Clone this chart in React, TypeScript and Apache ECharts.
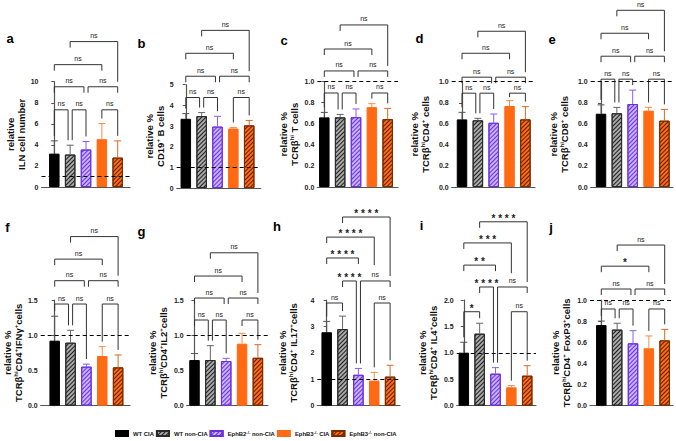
import React, { useEffect, useRef } from 'react';
import * as echarts from 'echarts';

const FONT = '"Liberation Sans", Arial, Helvetica, sans-serif';

const GROUPS = ['WT CIA', 'WT non-CIA', 'EphB2-/- non-CIA', 'EphB3-/- CIA', 'EphB3-/- non-CIA'];

// means and upper error (mean + SD) per panel
const A_MEAN = [3.17, 3.08, 3.56, 4.54, 2.79];
const A_ERR = [4.38, 3.97, 4.32, 6.03, 4.38];
const B_MEAN = [3.35, 3.48, 2.97, 2.88, 3.03];
const B_ERR = [3.6, 3.65, 3.47, 2.93, 3.27];
const C_MEAN = [0.66, 0.66, 0.662, 0.757, 0.643];
const C_ERR = [0.707, 0.688, 0.74, 0.79, 0.745];
const D_MEAN = [0.642, 0.633, 0.61, 0.769, 0.642];
const D_ERR = [0.709, 0.652, 0.693, 0.82, 0.763];
const E_MEAN = [0.696, 0.7, 0.788, 0.725, 0.63];
const E_ERR = [0.78, 0.756, 0.92, 0.756, 0.737];
const F_MEAN = [0.923, 0.894, 0.554, 0.705, 0.544];
const F_ERR = [1.27, 1.07, 0.59, 0.838, 0.72];
const G_MEAN = [0.648, 0.648, 0.634, 0.88, 0.68];
const G_ERR = [0.74, 0.852, 0.672, 1.027, 0.866];
const H_MEAN = [2.78, 2.9, 1.17, 0.95, 1.1];
const H_ERR = [3.19, 3.39, 1.41, 1.26, 1.53];
const I_MEAN = [1.003, 1.363, 0.606, 0.347, 0.568];
const I_ERR = [1.2, 1.56, 0.72, 0.38, 0.757];
const J_MEAN = [0.763, 0.72, 0.59, 0.543, 0.618];
const J_ERR = [0.8, 0.78, 0.71, 0.66, 0.722];

// significance brackets: [from, to, level value, left leg, right leg, label]
// leg: 's' short, 'e' down to error bar, 'b' down to bracket below, number = value
const A_BRK = [[0, 1, 7.33, 'e', 'e', 'ns'], [1, 2, 7.33, 'e', 'e', 'ns'], [3, 4, 7.33, 'e', 'e', 'ns'], [0, 2, 9.52, 's', 's', 'ns'], [2, 4, 9.52, 's', 's', 'ns'], [0, 3, 11.62, 's', 's', 'ns'], [1, 4, 13.81, 's', 'b', 'ns']];
const B_BRK = [[0, 1, 4.38, 'e', 'e', 'ns'], [1, 2, 4.38, 'e', 'e', 'ns'], [3, 4, 4.38, 'e', 'e', 'ns'], [0, 2, 5.41, 's', 's', 'ns'], [2, 4, 5.41, 's', 's', 'ns'], [0, 3, 6.52, 's', 's', 'ns'], [1, 4, 7.63, 's', 'b', 'ns']];
const C_BRK = [[0, 1, 0.891, 'e', 'e', 'ns'], [1, 2, 0.891, 'e', 'e', 'ns'], [3, 4, 0.891, 'e', 'e', 'ns'], [0, 2, 1.1, 's', 's', 'ns'], [2, 4, 1.1, 's', 's', 'ns'], [0, 3, 1.308, 's', 's', 'ns'], [1, 4, 1.536, 's', 'b', 'ns']];
const D_BRK = [[0, 1, 0.891, 'e', 'e', 'ns'], [1, 2, 0.891, 'e', 'e', 'ns'], [3, 4, 0.891, 'e', 'e', 'ns'], [0, 2, 1.043, 's', 's', 'ns'], [2, 4, 1.043, 's', 's', 'ns'], [0, 3, 1.27, 's', 's', 'ns'], [1, 4, 1.479, 's', 'b', 'ns']];
const E_BRK = [[0, 1, 1.024, 'e', 'e', 'ns'], [1, 2, 1.024, 'e', 'e', 'ns'], [3, 4, 1.024, 'e', 'e', 'ns'], [0, 2, 1.242, 's', 's', 'ns'], [2, 4, 1.242, 's', 's', 'ns'], [0, 3, 1.46, 's', 's', 'ns'], [1, 4, 1.678, 's', 'b', 'ns']];
const F_BRK = [[0, 1, 1.443, 'e', 'e', 'ns'], [1, 2, 1.443, 'e', 'e', 'ns'], [3, 4, 1.443, 'e', 'e', 'ns'], [0, 2, 1.774, 's', 's', 'ns'], [2, 4, 1.774, 's', 's', 'ns'], [0, 3, 2.08, 's', 's', 'ns'], [1, 4, 2.4, 's', 'b', 'ns']];
const G_BRK = [[0, 1, 1.216, 's', 'e', 'ns'], [1, 2, 1.216, 'e', 'e', 'ns'], [3, 4, 1.216, 's', 'e', 'ns'], [0, 2, 1.528, 's', 's', 'ns'], [2, 4, 1.528, 's', 's', 'ns'], [0, 3, 1.84, 's', 's', 'ns'], [1, 4, 2.17, 's', 'b', 'ns']];
const H_BRK = [[0, 1, 3.886, 'e', 'e', 'ns'], [3, 4, 3.886, 'e', 'e', 'ns'], [1, 2, 4.72, 's', 'e', '****'], [2, 4, 4.72, 'e', 's', 'ns'], [0, 2, 5.59, 's', 's', '****'], [0, 3, 6.38, 's', 5.32, '****'], [1, 4, 7.14, 's', 'b', '****']];
const I_BRK = [[0, 1, 1.778, 'e', 'e', '*'], [3, 4, 1.778, 'e', 'e', 'ns'], [1, 2, 2.246, 's', 'e', '****'], [2, 4, 2.246, 'e', 's', 'ns'], [0, 2, 2.66, 's', 's', '**'], [0, 3, 3.08, 's', 2.505, '***'], [1, 4, 3.48, 's', 'b', '****']];
const J_BRK = [[0, 1, 0.915, 'e', 'e', 'ns'], [1, 2, 0.915, 'e', 'e', 'ns'], [3, 4, 0.915, 'e', 'e', 'ns'], [0, 2, 1.104, 's', 's', 'ns'], [2, 4, 1.104, 's', 's', 'ns'], [0, 3, 1.32, 's', 's', '*'], [1, 4, 1.52, 's', 'b', 'ns']];

// y axis: [max, interval, decimals]
const A_Y = [10, 2, 0];
const B_Y = [5, 1, 0];
const C_Y = [1, 0.2, 1];
const D_Y = [1, 0.2, 1];
const E_Y = [1, 0.2, 1];
const F_Y = [1.5, 0.5, 1];
const G_Y = [1.5, 0.5, 1];
const H_Y = [4, 1, 0];
const I_Y = [2, 0.5, 1];
const J_Y = [1, 0.2, 1];

const A_TITLE = 'relative\nILN cell number';
const B_TITLE = 'relative %\nCD19{sup|+} B cells';
const C_TITLE = 'relative %\nTCRβ{sup|hi} T cells';
const D_TITLE = 'relative %\nTCRβ{sup|hi}CD4{sup|+} cells';
const E_TITLE = 'relative %\nTCRβ{sup|hi}CD8{sup|+} cells';
const F_TITLE = 'relative %\nTCRβ{sup|hi}CD4{sup|+}IFNγ{sup|+}cells';
const G_TITLE = 'relative %\nTCRβ{sup|hi}CD4{sup|+}IL2{sup|+}cells';
const H_TITLE = 'relative %\nTCRβ{sup|hi}CD4{sup|+} IL17{sup|+}cells';
const I_TITLE = 'relative %\nTCRβ{sup|hi}CD4{sup|+} IL4{sup|+}cells';
const J_TITLE = 'relative %\nTCRβ{sup|hi}CD4{sup|+} FoxP3{sup|+}cells';

const LETTERS = ['a', 'b', 'c', 'd', 'e', 'f', 'g', 'h', 'i', 'j'];
const REF_LINE = 1;

const PANELS = [
  { mean: A_MEAN, err: A_ERR, brk: A_BRK, y: A_Y, title: A_TITLE },
  { mean: B_MEAN, err: B_ERR, brk: B_BRK, y: B_Y, title: B_TITLE },
  { mean: C_MEAN, err: C_ERR, brk: C_BRK, y: C_Y, title: C_TITLE },
  { mean: D_MEAN, err: D_ERR, brk: D_BRK, y: D_Y, title: D_TITLE },
  { mean: E_MEAN, err: E_ERR, brk: E_BRK, y: E_Y, title: E_TITLE },
  { mean: F_MEAN, err: F_ERR, brk: F_BRK, y: F_Y, title: F_TITLE },
  { mean: G_MEAN, err: G_ERR, brk: G_BRK, y: G_Y, title: G_TITLE },
  { mean: H_MEAN, err: H_ERR, brk: H_BRK, y: H_Y, title: H_TITLE },
  { mean: I_MEAN, err: I_ERR, brk: I_BRK, y: I_Y, title: I_TITLE },
  { mean: J_MEAN, err: J_ERR, brk: J_BRK, y: J_Y, title: J_TITLE },
];

// layout: axisX, firstBarCenter, axisEnd, top, bottom, nameGap, letterX, letterY
const LAYOUT = [
  [41.5, 54.3, 130, 81.7, 187, 12.5, 10, 38],
  [176.7, 185.8, 260.7, 84.7, 188, 9, 141.5, 43],
  [317.3, 324.3, 398, 81.5, 187, 17.3, 284, 40],
  [451.7, 462, 535, 81.7, 187, 20.7, 419.5, 38],
  [590.7, 601, 673, 81.7, 187, 20.7, 552, 39],
  [40.7, 54.7, 130, 300, 405.7, 10.7, 7.5, 227],
  [186.7, 194.5, 268, 300, 405.7, 17.7, 141.5, 231],
  [317.3, 326.7, 400, 300, 405.7, 18.3, 277, 226.5],
  [456.7, 463.8, 536, 300, 405.7, 17.7, 421.5, 225.5],
  [590, 601.3, 673, 300, 405.7, 18, 551, 227],
];
const SP = 15.85;
const BAR_W = 10.5;
const INK = '#222222';

const FILL = ['#000000', '#a8a8a8', '#c6b2ff', '#ff6a13', '#ff6a13'];
const BORDER = ['#000000', '#2a2a2a', '#6b2fe0', '#ff6a13', '#7a2c00'];
const STRIPE = [null, '#1e1e1e', '#6b2fe0', null, '#5a1f00'];
const ERRC = ['#555555', '#666666', '#8a5cf5', '#ff8a45', '#d86a25'];

function barStyle(k: number) {
  const s = STRIPE[k];
  return {
    color: FILL[k],
    borderColor: BORDER[k],
    borderWidth: 1,
    decal: s
      ? { symbol: 'rect', symbolSize: 1, dashArrayX: [1, 0], dashArrayY: [1, 2], rotation: -Math.PI / 4, color: s }
      : 'none',
  };
}

function buildOption() {
  const grid: any[] = [];
  const xAxis: any[] = [];
  const yAxis: any[] = [];
  const series: any[] = [];
  const graphic: any[] = [];

  PANELS.forEach((p, gi) => {
    const [ax, first, end, top, bottom, gap, lx, ly] = LAYOUT[gi];
    const xmin = -(first - ax) / SP;
    const xmax = xmin + (end - ax) / SP;
    grid.push({ left: ax, top, width: end - ax, height: bottom - top, containLabel: false });
    xAxis.push({
      type: 'value', gridIndex: gi, min: xmin, max: xmax,
      axisLine: { show: true, onZero: false, lineStyle: { color: '#555', width: 1.2 } },
      axisTick: { show: false }, axisLabel: { show: false }, splitLine: { show: false },
    });
    const [ymax, step, dec] = p.y;
    yAxis.push({
      type: 'value', gridIndex: gi, min: 0, max: ymax, interval: step,
      axisLine: { show: true, lineStyle: { color: '#555', width: 1.2 } },
      axisTick: { show: true, length: 3, lineStyle: { color: '#555', width: 1 } },
      axisLabel: {
        fontSize: 7, fontWeight: 'bold', fontFamily: FONT, color: INK, margin: 3,
        formatter: (v: number) => v.toFixed(dec),
      },
      splitLine: { show: false },
      name: p.title, nameLocation: 'middle', nameRotate: 90, nameGap: gap,
      nameTextStyle: {
        fontSize: 9.5, fontWeight: 'bold', fontFamily: FONT, color: '#111', lineHeight: 11,
        rich: { sup: { fontSize: 6, fontWeight: 'bold', fontFamily: FONT, color: '#111', verticalAlign: 'top', lineHeight: 7 } },
      },
    });

    GROUPS.forEach((g, k) => {
      series.push({
        type: 'bar', name: g, xAxisIndex: gi, yAxisIndex: gi,
        data: [[k, p.mean[k]]], barWidth: BAR_W, barGap: '-100%',
        itemStyle: barStyle(k), silent: true, z: 2,
        markLine: k === 0 ? {
          silent: true, symbol: ['none', 'none'], label: { show: false },
          lineStyle: { color: '#000', type: [4, 3], width: 1.2 },
          data: [{ yAxis: REF_LINE }],
        } : undefined,
      });
    });

    // error bars
    series.push({
      type: 'custom', xAxisIndex: gi, yAxisIndex: gi, silent: true, clip: false, z: 3,
      itemStyle: { color: '#555' },
      data: p.mean.map((m, k) => [k, m, p.err[k]]),
      renderItem: (params: any, api: any) => {
        const k = api.value(0);
        const p0 = api.coord([k, api.value(1)]);
        const p1 = api.coord([k, api.value(2)]);
        const c = ERRC[k];
        return {
          type: 'group', children: [
            { type: 'line', shape: { x1: p0[0], y1: p0[1], x2: p1[0], y2: p1[1] }, style: { stroke: c, lineWidth: 1 } },
            { type: 'line', shape: { x1: p1[0] - 3.5, y1: p1[1], x2: p1[0] + 3.5, y2: p1[1] }, style: { stroke: c, lineWidth: 1 } },
          ],
        };
      },
    });

    // significance brackets
    const brk = p.brk as any[];
    const err = p.err;
    series.push({
      type: 'custom', xAxisIndex: gi, yAxisIndex: gi, silent: true, clip: false, z: 4,
      itemStyle: { color: INK },
      data: brk.map((b) => [b[0], b[2], b[1]]),
      renderItem: (params: any, api: any) => {
        const idx = params.dataIndex;
        const [a, b, lvl, l, r, lab] = brk[idx];
        const sib = (k: number) => brk.some((o, j) => j !== idx && Math.abs(o[2] - lvl) < 1e-9 && (o[0] === k || o[1] === k));
        const xa = a + (sib(a) ? 0.13 : 0);
        const xb = b - (sib(b) ? 0.13 : 0);
        const pA = api.coord([xa, lvl]);
        const pB = api.coord([xb, lvl]);
        const yTop = pA[1];
        const legEnd = (spec: any, k: number) => {
          if (spec === 's') return yTop + 6;
          if (spec === 'e') return Math.max(yTop + 4, api.coord([k, err[k]])[1] - 5);
          if (spec === 'b') {
            let best = -Infinity;
            brk.forEach((o) => { if (o[2] < lvl && (o[0] === k || o[1] === k) && o[2] > best) best = o[2]; });
            return api.coord([k, best])[1] - 5;
          }
          return api.coord([k, spec])[1];
        };
        const yl = legEnd(l, a);
        const yr = legEnd(r, b);
        const star = lab.indexOf('*') >= 0;
        const shown = star ? lab.split('').join(' ') : lab;
        return {
          type: 'group', children: [
            {
              type: 'polyline',
              shape: { points: [[pA[0], yl], [pA[0], yTop], [pB[0], yTop], [pB[0], yr]] },
              style: { stroke: '#333', lineWidth: 1, fill: null },
            },
            {
              type: 'text', x: (pA[0] + pB[0]) / 2, y: star ? yTop + 1.5 : yTop - 2.5,
              style: {
                text: shown, fill: INK,
                font: (star ? 'bold 10px ' : 'normal 7px ') + FONT,
                align: 'center', verticalAlign: 'bottom',
              },
            },
          ],
        };
      },
    });

    graphic.push({
      type: 'text', x: lx, y: ly,
      style: {
        text: LETTERS[gi], fill: '#000', font: 'bold 13px ' + FONT,
        align: 'center', verticalAlign: 'middle',
      },
    });
  });

  return {
    animation: false,
    backgroundColor: '#ffffff',
    grid, xAxis, yAxis, series, graphic,
    legend: {
      data: GROUPS, left: 115, top: 430, itemWidth: 12, itemHeight: 5, itemGap: 2, icon: 'rect',
      padding: 0, selectedMode: false,
      formatter: (name: string) => name.replace('-/-', '{sup|-/-}'),
      textStyle: {
        fontSize: 5.9, fontWeight: 'bold', fontFamily: FONT, color: '#111',
        rich: { sup: { fontSize: 4.3, fontWeight: 'bold', fontFamily: FONT, color: '#111', verticalAlign: 'top', lineHeight: 5 } },
      },
    },
  };
}

export default function App() {
  const ref = useRef<HTMLDivElement>(null);
  useEffect(() => {
    const chart = echarts.init(ref.current as HTMLDivElement, null, { renderer: 'svg' });
    chart.setOption(buildOption() as any);
    return () => chart.dispose();
  }, []);
  return <div ref={ref} style={{ position: 'fixed', left: 0, top: 0, width: 676, height: 441, background: '#fff' }} />;
}
